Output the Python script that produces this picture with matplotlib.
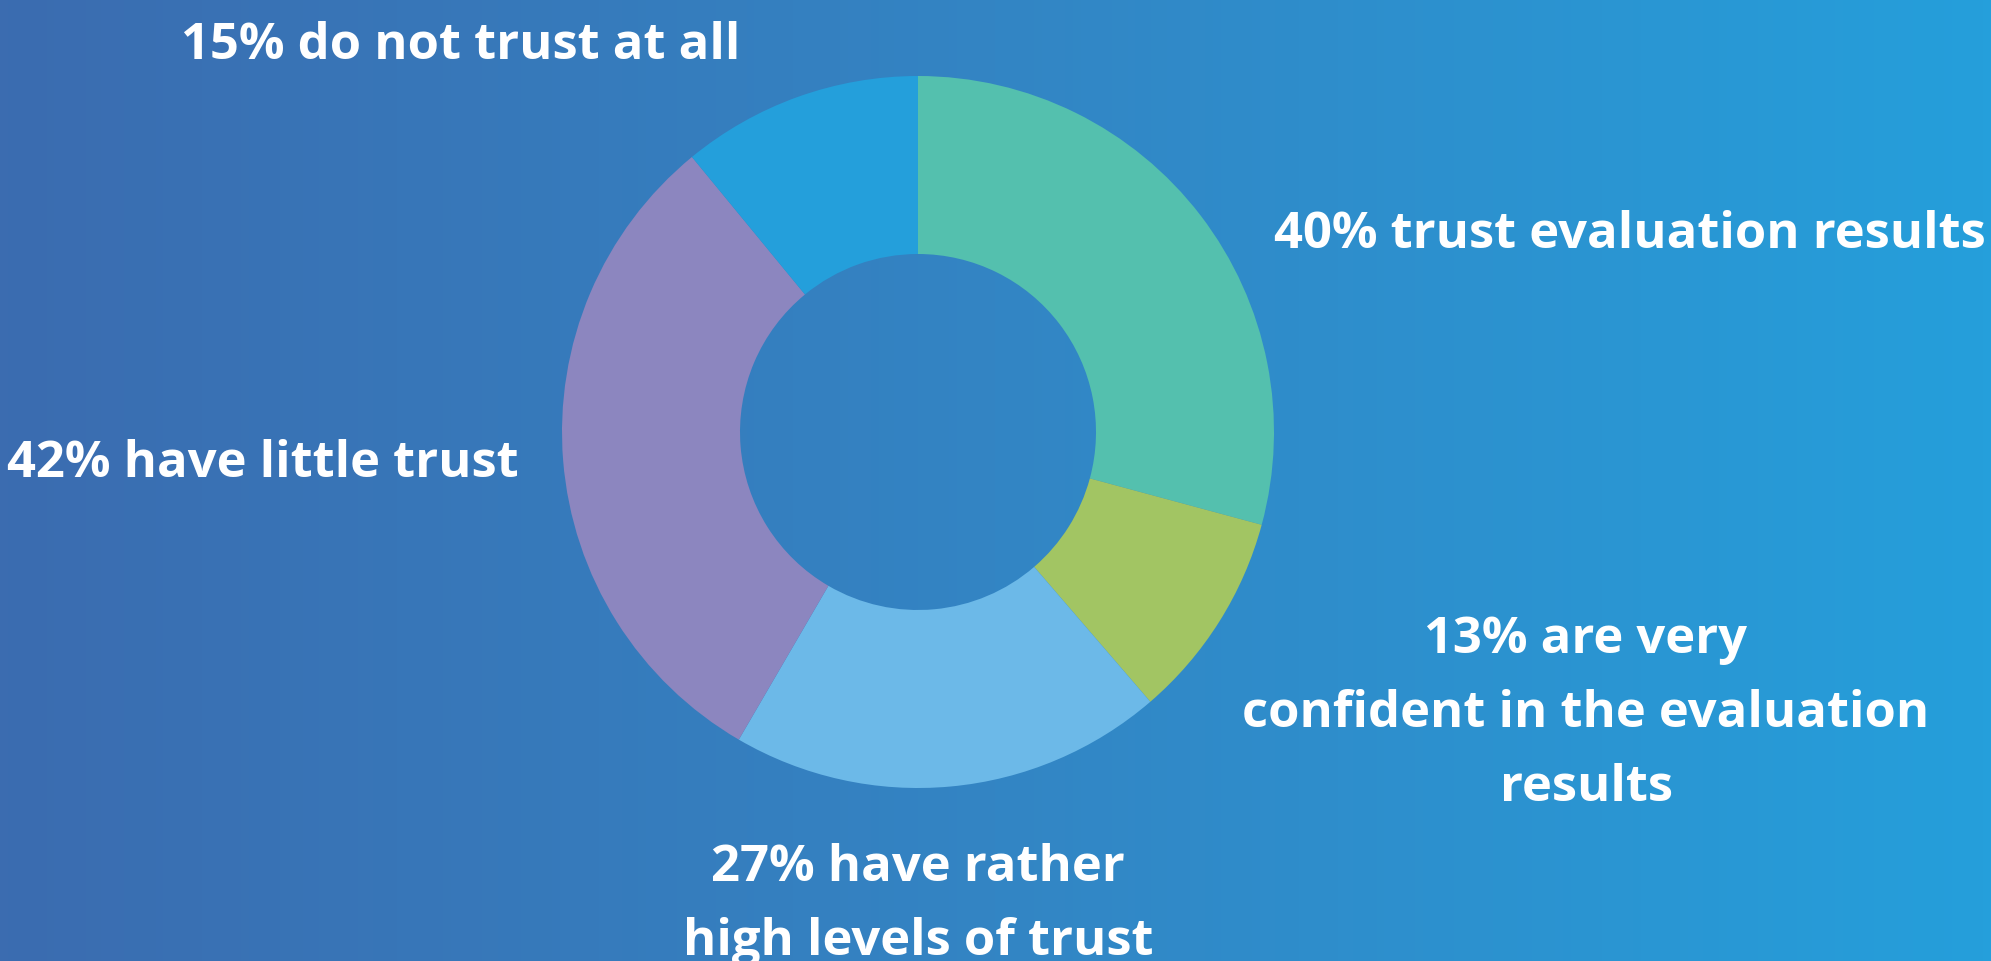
import numpy as np
import matplotlib
matplotlib.use("Agg")
import matplotlib.pyplot as plt
from matplotlib.colors import LinearSegmentedColormap

# Data
categories = ["trust evaluation results",
              "are very confident in the evaluation results",
              "have rather high levels of trust",
              "have little trust",
              "do not trust at all"]
values = [40, 13, 27, 42, 15]
colors = ["#54C0AE", "#A2C563", "#6CB9E8", "#8C86BF", "#249FDB"]
labels = ["40% trust evaluation results",
          "13% are very\nconfident in the evaluation\nresults",
          "27% have rather\nhigh levels of trust",
          "42% have little trust",
          "15% do not trust at all"]

W, H = 1991, 961
fig = plt.figure(figsize=(W / 100, H / 100), dpi=100)
ax = fig.add_axes([0, 0, 1, 1])
ax.set_xlim(0, W)
ax.set_ylim(0, H)
ax.axis("off")

# gradient background
cmap = LinearSegmentedColormap.from_list("bg", ["#3B6CB0", "#3385C4", "#259FDB"])
grad = np.linspace(0, 1, 512).reshape(1, -1)
ax.imshow(grad, cmap=cmap, aspect="auto", extent=[0, W, 0, H], zorder=0)

cx, cy, R = 918, H - 432, 356
ax.pie(values, colors=colors, startangle=90, counterclock=False,
       center=(cx, cy), radius=R, frame=True,
       wedgeprops=dict(width=R * 0.5, edgecolor="none", linewidth=0))
ax.set_xlim(0, W)
ax.set_ylim(0, H)
ax.set_aspect("auto")
ax.axis("off")

font = dict(family="Open Sans", weight="bold", color="white", fontsize=36.5)
ax.text(1630, H - 235, labels[0], ha="center", va="center", **font)
ax.text(1586, H - 714, labels[1], ha="center", va="center", linespacing=1.62, **font)
ax.text(918, H - 905, labels[2], ha="center", va="center", linespacing=1.62, **font)
ax.text(263, H - 464, labels[3], ha="center", va="center", **font)
ax.text(461, H - 46, labels[4], ha="center", va="center", **font)

fig.savefig("out.png", dpi=100)
